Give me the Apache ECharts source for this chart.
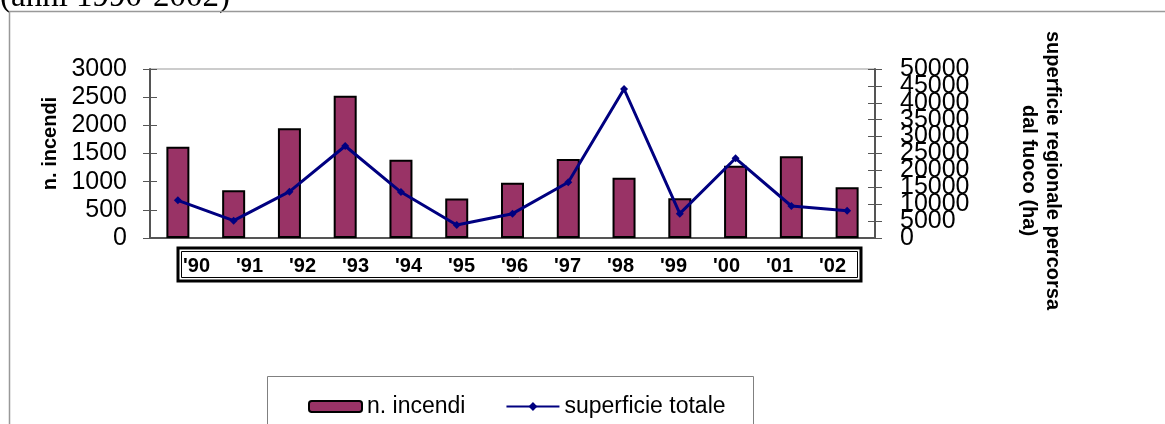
<!DOCTYPE html>
<html>
<head>
<meta charset="utf-8">
<script src="https://cdn.jsdelivr.net/npm/echarts@6/dist/echarts.min.js"></script>
<style>
  html, body { margin: 0; padding: 0; background: #fff; }
  #chart { width: 1165px; height: 424px; }
</style>
</head>
<body>
<div id="chart"></div>
<script>
var anni = ["'90", "'91", "'92", "'93", "'94", "'95", "'96", "'97", "'98", "'99", "'00", "'01", "'02"];
var incendi = [1620, 846, 1947, 2526, 1390, 700, 982, 1402, 1071, 705, 1284, 1450, 900];
var superficie = [11150, 5130, 13700, 27220, 13600, 3850, 7200, 16480, 44080, 7200, 23580, 9470, 8080];

var myChart = echarts.init(document.getElementById("chart"), null, { renderer: "canvas" });

var fontSans = "Liberation Sans, Arial, sans-serif";
var plain = function (v) { return String(v); };
// le etichette di destra si sovrappongono: divise su due assi così echarts non ne nasconde nessuna
var pari = function (v) { return v % 10000 === 0 ? String(v) : ""; };
var dispari = function (v) { return v % 10000 !== 0 ? String(v) : ""; };

var rightLabel = { margin: 25, fontFamily: fontSans, fontSize: 25, color: "#000", hideOverlap: false, showMinLabel: true, showMaxLabel: true };

var yLeft = {
  type: "value", gridIndex: 0, position: "left",
  min: 0, max: 3000, interval: 500,
  name: "n. incendi", nameLocation: "middle", nameRotate: 90, nameGap: 80,
  nameTextStyle: { fontFamily: fontSans, fontSize: 20, fontWeight: "bold", color: "#000", padding: [0, 0, 0, 20] },
  axisLine: { show: true, lineStyle: { color: "#555", width: 2 } },
  axisTick: { show: true, inside: false, length: 7, lineStyle: { color: "#555", width: 1 } },
  axisLabel: { margin: 23, fontFamily: fontSans, fontSize: 25, color: "#000", hideOverlap: false, showMinLabel: true, showMaxLabel: true, formatter: plain },
  splitLine: { show: false }
};
var yRight = {
  type: "value", gridIndex: 0, position: "right",
  min: 0, max: 50000, interval: 5000,
  name: "superficie regionale percorsa\ndal fuoco (ha)", nameLocation: "middle", nameRotate: -90, nameGap: 142,
  nameTextStyle: { fontFamily: fontSans, fontSize: 20, fontWeight: "bold", color: "#000", lineHeight: 24, padding: [0, 0, 0, 34] },
  axisLine: { show: true, lineStyle: { color: "#555", width: 2 } },
  axisTick: { show: true, inside: false, length: 7, lineStyle: { color: "#555", width: 1 } },
  axisLabel: Object.assign({}, rightLabel, { formatter: pari }),
  splitLine: { show: false }
};

var option = {
  animation: false,
  backgroundColor: "#fff",
  grid: [
    { left: 150, right: 290, top: 69, height: 169, show: true, borderColor: "#999", borderWidth: 1, containLabel: false, outerBoundsMode: "none" },
    { left: 170, width: 689, top: 240, height: 10, show: false, containLabel: false, outerBoundsMode: "none" }
  ],
  graphic: [
    { type: "text", left: 0, top: -19, style: { text: "(anni 1990-2002)", font: "33px 'Liberation Serif', 'Times New Roman', serif", fill: "#000" } },
    { type: "rect", shape: { x: 9.5, y: 11.5, width: 1300, height: 500 }, style: { fill: null, stroke: "#999", lineWidth: 1.5 }, silent: true },
    { type: "rect", shape: { x: 178, y: 248, width: 683, height: 33 }, style: { fill: null, stroke: "#000", lineWidth: 3 }, silent: true },
    { type: "rect", shape: { x: 181.5, y: 251.5, width: 676, height: 26 }, style: { fill: null, stroke: "#000", lineWidth: 1 }, silent: true },
    { type: "rect", shape: { x: 267.5, y: 376.5, width: 486, height: 100 }, style: { fill: null, stroke: "#808080", lineWidth: 1 }, silent: true }
  ],
  legend: {
    left: 303, top: 390,
    itemWidth: 53, itemHeight: 11, itemGap: 40,
    textStyle: { fontFamily: fontSans, fontSize: 23, color: "#000" },
    data: ["n. incendi", "superficie totale"]
  },
  xAxis: [
    {
      type: "category", gridIndex: 0, data: anni,
      axisLine: { show: true, lineStyle: { color: "#555", width: 2 } },
      axisTick: { show: false },
      axisLabel: { show: false },
      splitLine: { show: false }
    },
    {
      type: "category", gridIndex: 1, data: anni, position: "bottom",
      axisLine: { show: false },
      axisTick: { show: false },
      axisLabel: { show: true, interval: 0, margin: 6, fontFamily: fontSans, fontSize: 20, fontWeight: "bold", color: "#000" },
      splitLine: { show: false }
    }
  ],
  yAxis: [
    yLeft,
    yRight,
    {
      type: "value", gridIndex: 0, position: "left", min: 0, max: 3000, interval: 500,
      axisLine: { show: false }, axisLabel: { show: false }, splitLine: { show: false },
      axisTick: { show: true, inside: true, length: 7, lineStyle: { color: "#555", width: 1 } }
    },
    {
      type: "value", gridIndex: 0, position: "right", min: 0, max: 50000, interval: 5000,
      axisLine: { show: false }, splitLine: { show: false },
      axisLabel: Object.assign({}, rightLabel, { formatter: dispari }),
      axisTick: { show: true, inside: true, length: 7, lineStyle: { color: "#555", width: 1 } }
    },
    { type: "value", gridIndex: 1, show: false, min: 0, max: 1 }
  ],
  series: [
    {
      name: "n. incendi", type: "bar", xAxisIndex: 0, yAxisIndex: 0,
      data: incendi, barWidth: 23,
      itemStyle: { color: "#993366", borderColor: "#000", borderWidth: 2 }
    },
    {
      name: "superficie totale", type: "line", xAxisIndex: 0, yAxisIndex: 1,
      data: superficie,
      symbol: "diamond", symbolSize: 8,
      lineStyle: { color: "#000080", width: 3 },
      itemStyle: { color: "#000080" }
    }
  ]
};

myChart.setOption(option);
</script>
</body>
</html>
